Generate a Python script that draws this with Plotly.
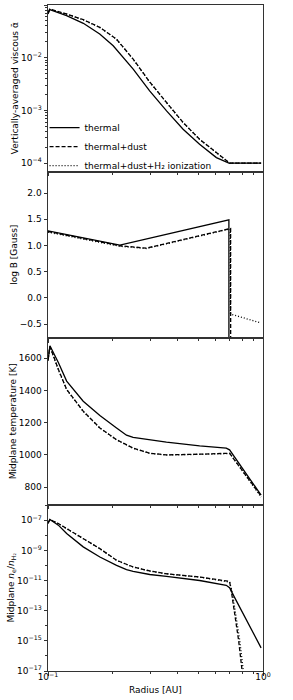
import plotly.graph_objects as go
from plotly.subplots import make_subplots

# ---------------- Panel 1: vertically-averaged viscous alpha ----------------
alpha_thermal_r = [0.100, 0.102, 0.122, 0.146, 0.174, 0.201, 0.249, 0.297, 0.356, 0.425, 0.507, 0.607, 0.694, 0.98]
alpha_thermal = [6.75e-2, 8.15e-2, 6.27e-2, 4.49e-2, 2.81e-2, 1.68e-2, 6.07e-3, 2.35e-3, 9.8e-4, 4.4e-4, 2.28e-4, 1.27e-4, 1.0e-4, 1.0e-4]
alpha_dust_r = [0.100, 0.102, 0.122, 0.146, 0.174, 0.208, 0.249, 0.297, 0.356, 0.425, 0.507, 0.607, 0.699, 0.98]
alpha_dust = [7.26e-2, 8.39e-2, 6.75e-2, 5.26e-2, 3.77e-2, 2.26e-2, 9.4e-3, 3.48e-3, 1.41e-3, 5.89e-4, 2.83e-4, 1.58e-4, 1.0e-4, 1.0e-4]
alpha_ion_r = [0.100, 0.102, 0.122, 0.146, 0.174, 0.208, 0.249, 0.297, 0.356, 0.425, 0.507, 0.607, 0.699, 0.98]
alpha_ion = [7.1e-2, 8.3e-2, 6.7e-2, 5.2e-2, 3.75e-2, 2.25e-2, 9.3e-3, 3.45e-3, 1.40e-3, 5.85e-4, 2.82e-4, 1.57e-4, 1.0e-4, 1.0e-4]

# ---------------- Panel 2: log B [Gauss] ----------------
logB_thermal_r = [0.100, 0.216, 0.694, 0.6945]
logB_thermal = [1.281, 1.008, 1.491, -3.0]
logB_dust_r = [0.100, 0.216, 0.287, 0.707, 0.7075]
logB_dust = [1.268, 0.995, 0.950, 1.326, -3.0]
logB_ion_r = [0.100, 0.216, 0.287, 0.704, 0.706, 0.98]
logB_ion = [1.255, 0.985, 0.942, 1.318, -0.309, -0.481]

# ---------------- Panel 3: midplane temperature [K] ----------------
temp_thermal_r = [0.100, 0.1021, 0.1117, 0.1221, 0.1458, 0.1743, 0.2084, 0.2318, 0.2488, 0.2974, 0.3555, 0.5074, 0.6747, 0.699, 0.98]
temp_thermal = [1583, 1677, 1573, 1458, 1333, 1244, 1167, 1122, 1108, 1094, 1079, 1056, 1042, 1031, 750]
temp_dust_r = [0.100, 0.1021, 0.1117, 0.1221, 0.1458, 0.1743, 0.2084, 0.2488, 0.2974, 0.3555, 0.5074, 0.699, 0.98]
temp_dust = [1594, 1673, 1531, 1406, 1271, 1167, 1094, 1042, 1010, 1000, 1004, 1010, 744]
temp_ion_r = [0.100, 0.1021, 0.1117, 0.1221, 0.1458, 0.1743, 0.2084, 0.2488, 0.2974, 0.3555, 0.5074, 0.702, 0.98]
temp_ion = [1590, 1670, 1528, 1404, 1269, 1166, 1093, 1041, 1009, 999, 1003, 1008, 738]

# ---------------- Panel 4: midplane electron fraction ----------------
xe_thermal_r = [0.100, 0.1021, 0.1117, 0.1221, 0.1458, 0.1743, 0.2084, 0.2318, 0.2488, 0.2974, 0.3555, 0.5074, 0.6747, 0.699, 0.7249, 0.98]
xe_thermal = [6.0e-8, 1.1e-7, 4.7e-8, 1.3e-8, 1.7e-9, 3.6e-10, 1.0e-10, 5.2e-11, 4.1e-11, 2.5e-11, 1.9e-11, 1.0e-11, 4.8e-12, 3.3e-12, 1.2e-12, 3.4e-16]
xe_dust_r = [0.100, 0.1021, 0.1117, 0.1221, 0.1458, 0.1743, 0.2084, 0.2488, 0.2974, 0.3555, 0.5074, 0.699, 0.7117, 0.7706, 0.7995, 0.81]
xe_dust = [6.6e-8, 1.1e-7, 6.0e-8, 2.8e-8, 6.0e-9, 1.3e-9, 2.2e-10, 7.9e-11, 4.3e-11, 2.8e-11, 1.7e-11, 8.7e-12, 2.2e-12, 1.0e-15, 1.0e-17, 1.6e-18]
xe_ion_r = [0.100, 0.1021, 0.1117, 0.1221, 0.1458, 0.1743, 0.2084, 0.2488, 0.2974, 0.3555, 0.5074, 0.699, 0.72, 0.78, 0.81, 0.82]
xe_ion = [6.4e-8, 1.1e-7, 5.9e-8, 2.75e-8, 5.9e-9, 1.28e-9, 2.15e-10, 7.8e-11, 4.25e-11, 2.75e-11, 1.68e-11, 7.9e-12, 1.6e-12, 1.0e-15, 1.0e-17, 2.5e-18]

series_names = ["thermal", "thermal+dust", "thermal+dust+H\u2082 ionization"]
series_dash = ["solid", "4px,2px", "1px,2px"]

x_tickvals = [0.1, 1.0]
x_ticktext = ["10<sup>\u22121</sup>", "10<sup>0</sup>"]
x_minor = [0.2, 0.3, 0.4, 0.5, 0.6, 0.7, 0.8, 0.9]

alpha_tickvals = [1e-4, 1e-3, 1e-2, 1e-1]
alpha_ticktext = ["10<sup>\u22124</sup>", "10<sup>\u22123</sup>", "10<sup>\u22122</sup>", "10<sup>\u22121</sup>"]
logB_tickvals = [-0.5, 0.0, 0.5, 1.0, 1.5, 2.0]
logB_ticktext = ["\u22120.5", "0.0", "0.5", "1.0", "1.5", "2.0"]
temp_tickvals = [800, 1000, 1200, 1400, 1600]
xe_tickvals = [1e-17, 1e-15, 1e-13, 1e-11, 1e-9, 1e-7]
xe_ticktext = ["10<sup>\u221217</sup>", "10<sup>\u221215</sup>", "10<sup>\u221213</sup>",
               "10<sup>\u221211</sup>", "10<sup>\u22129</sup>", "10<sup>\u22127</sup>"]

panels = [
    [(alpha_thermal_r, alpha_thermal), (alpha_dust_r, alpha_dust), (alpha_ion_r, alpha_ion)],
    [(logB_thermal_r, logB_thermal), (logB_dust_r, logB_dust), (logB_ion_r, logB_ion)],
    [(temp_thermal_r, temp_thermal), (temp_dust_r, temp_dust), (temp_ion_r, temp_ion)],
    [(xe_thermal_r, xe_thermal), (xe_dust_r, xe_dust), (xe_ion_r, xe_ion)],
]

fig = make_subplots(rows=4, cols=1, shared_xaxes=True, vertical_spacing=0)

for p, panel in enumerate(panels):
    for s, (rx, vy) in enumerate(panel):
        fig.add_trace(go.Scatter(
            x=rx, y=vy, mode="lines",
            name=series_names[s],
            legendgroup=series_names[s],
            showlegend=(p == 0),
            line=dict(color="black", width=1.3, dash=series_dash[s]),
        ), row=p + 1, col=1)

FONT = "DejaVu Sans"
axis_common = dict(showline=True, mirror=True, linecolor="#333", linewidth=1,
                   showgrid=False, zeroline=False, ticks="outside", ticklen=3.5,
                   tickwidth=1, tickcolor="#333", automargin=False,
                   tickfont=dict(family=FONT, size=9, color="black"))

for i in range(1, 5):
    fig.update_xaxes(type="log", range=[-1, 0], tickmode="array",
                     tickvals=x_tickvals, ticktext=x_ticktext,
                     showticklabels=(i == 4),
                     minor=dict(tickmode="array", tickvals=x_minor, ticks="outside",
                                ticklen=2, tickcolor="#333", showgrid=False),
                     row=i, col=1, **axis_common)
fig.update_xaxes(ticklabelstandoff=-6, row=4, col=1)

title_font = dict(family=FONT, size=9, color="black")
alpha_minor = [m * 10 ** e for e in (-4, -3, -2) for m in range(2, 10)]
fig.update_yaxes(type="log", range=[-4.16, -1.0], tickmode="array",
                 tickvals=alpha_tickvals, ticktext=alpha_ticktext,
                 minor=dict(tickmode="array", tickvals=alpha_minor, ticks="outside",
                            ticklen=2, tickcolor="#333", showgrid=False),
                 title=dict(text="Vertically-averaged viscous \u1fb1", font=title_font, standoff=0),
                 row=1, col=1, **axis_common)
fig.update_yaxes(range=[-0.767, 2.414], tickmode="array",
                 tickvals=logB_tickvals, ticktext=logB_ticktext,
                 title=dict(text="log B [Gauss]", font=title_font, standoff=0),
                 row=2, col=1, **axis_common)
fig.update_yaxes(range=[692, 1725], tickmode="array", tickvals=temp_tickvals,
                 title=dict(text="Midplane temperature [K]", font=title_font, standoff=0),
                 row=3, col=1, **axis_common)
xe_minor = [10.0 ** e for e in range(-16, -5, 2)]
fig.update_yaxes(type="log", range=[-17, -5.96], tickmode="array",
                 tickvals=xe_tickvals, ticktext=xe_ticktext,
                 minor=dict(tickmode="array", tickvals=xe_minor, ticks="outside",
                            ticklen=2, tickcolor="#333", showgrid=False),
                 title=dict(text="Midplane <i>n</i><sub>e</sub>/<i>n</i><sub>H\u2082</sub>", font=title_font, standoff=0),
                 row=4, col=1, **axis_common)

fig.add_annotation(text="Radius [AU]", xref="paper", yref="paper", x=0.5, y=-0.0285,
                   xanchor="center", yanchor="middle", showarrow=False,
                   font=dict(family=FONT, size=9, color="black"))

fig.update_layout(
    width=293, height=700,
    margin=dict(l=48, r=30, t=5, b=29),
    paper_bgcolor="white", plot_bgcolor="white",
    font=dict(family=FONT, size=9, color="black"),
    legend=dict(x=-0.016, y=0.7875, xanchor="left", yanchor="middle",
                bgcolor="rgba(0,0,0,0)", borderwidth=0,
                font=dict(family=FONT, size=9, color="black"),
                itemwidth=30, tracegroupgap=0),
)

fig.write_html("out.html",
               config={"displayModeBar": False},
               post_script="document.body.style.margin='0';document.body.style.padding='0';")
